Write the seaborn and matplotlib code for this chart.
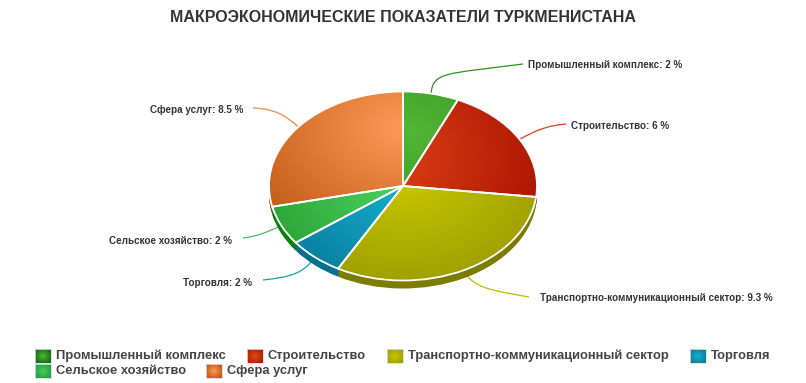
import numpy as np
import pandas as pd
import matplotlib
matplotlib.use('Agg')
import matplotlib.pyplot as plt
from matplotlib.patches import Rectangle, PathPatch
from matplotlib.path import Path
import seaborn as sns

sectors = ['Промышленный комплекс', 'Строительство', 'Транспортно-коммуникационный сектор',
           'Торговля', 'Сельское хозяйство', 'Сфера услуг']
shares = [2, 6, 9.3, 2, 2, 8.5]
share_labels = ['2', '6', '9.3', '2', '2', '8.5']
chart_title = 'МАКРОЭКОНОМИЧЕСКИЕ ПОКАЗАТЕЛИ ТУРКМЕНИСТАНА'

# colours: light centre of the gradient, dark rim, side of the 3d wall
light = ['#52b636', '#e2481a', '#c8c800', '#14b0cc', '#48cc5c', '#ff9858']
dark = ['#35941f', '#ad1500', '#9a9a00', '#0a80a0', '#28a032', '#c05a18']
side = ['#0f6e0f', '#8a1c00', '#7c7c00', '#00708c', '#0b800b', '#a84c14']
swatch_rim = ['#0f6e0f', '#b02000', '#a0a000', '#0a7f9a', '#25a040', '#c05a18']
# where each gradient is brightest, in pie coordinates
focus = [(0.05, 0.55), (-0.3, 0.3), (0.0, 0.1), (0.1, -0.1), (-0.1, -0.1), (0.0, 0.6)]
reach = [1.1, 1.4, 1.3, 1.05, 1.05, 1.35]

df = pd.DataFrame({'sector': sectors, 'share': shares})

sns.set_theme(style='white')
plt.rcParams['font.family'] = ['Liberation Sans', 'DejaVu Sans']

W, H = 806, 383
cx, cy, rx, ry = 403, 186, 134, 94.5
depth = 8
pad = 1.15

fig = plt.figure(figsize=(W / 100, H / 100), dpi=100)
ax = fig.add_axes([(cx - rx * pad) / W, 1 - (cy + ry * pad) / H, 2 * rx * pad / W, 2 * ry * pad / H], zorder=2)

# 3d wall: the same pie stacked downwards
for k in range(depth, 0, -1):
    ax.pie(df['share'], colors=side, startangle=90, counterclock=False,
           center=(0, -k / ry), wedgeprops={'linewidth': 0})

wedges, _ = ax.pie(df['share'], colors=light, startangle=90, counterclock=False,
                   wedgeprops={'linewidth': 0})

xx, yy = np.meshgrid(np.linspace(-1.05, 1.05, 300), np.linspace(-1.05, 1.05, 300))
for i, w in enumerate(wedges):
    c0 = np.array(matplotlib.colors.to_rgb(light[i]))
    c1 = np.array(matplotlib.colors.to_rgb(dark[i]))
    t = np.clip(np.hypot(xx - focus[i][0], yy - focus[i][1]) / reach[i], 0, 1)[..., None]
    im = ax.imshow(c0 + (c1 - c0) * t, extent=(-1.05, 1.05, -1.05, 1.05), origin='lower',
                   aspect='auto', zorder=3)
    im.set_clip_path(w)

outline, _ = ax.pie(df['share'], colors=['none'] * 6, startangle=90, counterclock=False,
                    wedgeprops={'linewidth': 1.3, 'edgecolor': '#ffffff'})
for w in outline:
    w.set_zorder(4)
ax.set_aspect('auto')
ax.set_xlim(-pad, pad)
ax.set_ylim(-pad, pad)
ax.axis('off')

# pixel-coordinate axes: one under the pie for connectors, one over it for text
under = fig.add_axes([0, 0, 1, 1], zorder=1)
ov = fig.add_axes([0, 0, 1, 1], zorder=3)
for a in (under, ov):
    a.set_xlim(0, W)
    a.set_ylim(H, 0)
    a.axis('off')
    a.patch.set_alpha(0)

ov.text(403, 17, chart_title, ha='center', va='center', fontsize=11.5, fontweight='bold', color='#333333')

# label anchors and connector shape: two bezier handles, then the end
label_pos = [(528, 65, 'left'), (571, 126, 'left'), (540, 298, 'left'),
             (252, 283, 'right'), (232, 241, 'right'), (243, 110, 'right')]
bends = [((433, 72), (445, 74), (523, 64)),
         ((535, 131), (545, 126), (566, 124)),
         ((472, 288), (490, 290), (529, 297)),
         ((303, 274), (290, 277), (263, 280)),
         ((265, 233), (258, 236), (243, 238)),
         ((285, 115), (275, 109), (253, 108))]
line_col = ['#2f8f1f', '#d8401a', '#bcbc00', '#12a0bc', '#48c060', '#f08848']

for i, w in enumerate(wedges):
    mid = np.deg2rad((w.theta1 + w.theta2) / 2)
    px, py = cx + rx * np.cos(mid), cy - ry * np.sin(mid)
    lx, ly, ha = label_pos[i]
    ov.text(lx, ly, f'{sectors[i]}: {share_labels[i]} %', ha=ha, va='center',
            fontsize=7.12, fontweight='bold', color='#333333')
    h1, h2, end = bends[i]
    path = Path([(px, py), h1, h2, end], [Path.MOVETO, Path.CURVE4, Path.CURVE4, Path.CURVE4])
    under.add_patch(PathPatch(path, fill=False, ec=line_col[i], lw=0.9))

# legend wraps over two rows, so it is laid out by hand
legend_pos = [(35, 356), (247, 356), (387, 356), (690, 356), (35, 371), (206, 371)]
for i, (lx, ly) in enumerate(legend_pos):
    g = np.linspace(-1, 1, 16)
    gx, gy = np.meshgrid(g, g)
    t = np.clip(np.hypot(gx, gy) / 1.2, 0, 1)[..., None]
    c0 = np.array(matplotlib.colors.to_rgb(light[i]))
    c1 = np.array(matplotlib.colors.to_rgb(swatch_rim[i]))
    ov.imshow(c0 + (c1 - c0) * t, extent=(lx, lx + 16, ly + 7, ly - 7), aspect='auto', zorder=2)
    ov.add_patch(Rectangle((lx, ly - 7), 16, 14, fill=False, ec='#dddddd', lw=0.6, zorder=3))
    ov.text(lx + 21, ly, sectors[i], ha='left', va='center', fontsize=9.3, fontweight='bold', color='#444444')
ov.set_xlim(0, W)
ov.set_ylim(H, 0)

fig.savefig('out.png', dpi=100, facecolor='white')
